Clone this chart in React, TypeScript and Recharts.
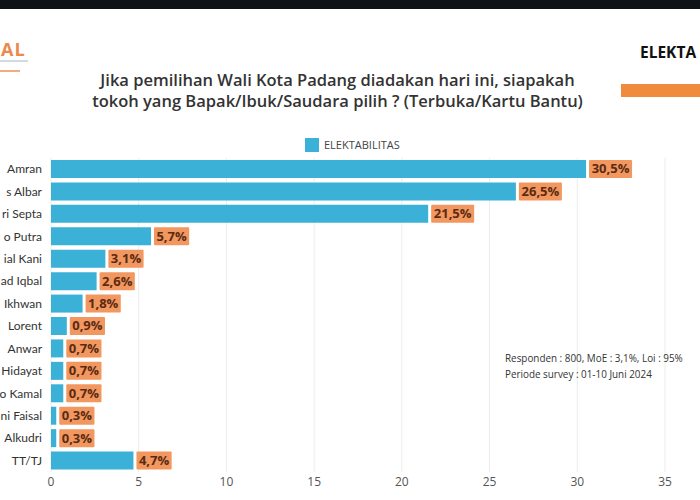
import React from "react";
import { BarChart, Bar, XAxis, YAxis, CartesianGrid, LabelList } from "recharts";

const names = [
  "Amran",
  "s Albar",
  "ri Septa",
  "o Putra",
  "ial Kani",
  "ad Iqbal",
  "Ikhwan",
  "Lorent",
  "Anwar",
  "Hidayat",
  "o Kamal",
  "ni Faisal",
  "Alkudri",
  "TT/TJ",
];
const elektabilitas = [30.5, 26.5, 21.5, 5.7, 3.1, 2.6, 1.8, 0.9, 0.7, 0.7, 0.7, 0.3, 0.3, 4.7];
const xTicks = [0, 5, 10, 15, 20, 25, 30, 35];

const rows = names.map((name, i) => ({ name, value: elektabilitas[i] }));

const FONT = "'Open Sans', Lato, sans-serif";
const BLUE = "#3bb1d7";
const ORANGE = "#f1975f";

// orange tag with the percentage, sitting just past the bar end
function ValueTag(props: any) {
  const { x, y, width, height, value } = props;
  const text = value.toFixed(1).replace(".", ",") + "%";
  const w = text.length * 7.8 + 4;
  const bx = x + width + 3;
  return (
    <g>
      <rect x={bx} y={y} width={w} height={height} fill={ORANGE} rx={1} />
      <text
        x={bx + w / 2}
        y={y + height / 2 + 1}
        textAnchor="middle"
        dominantBaseline="middle"
        fontSize={13}
        fontWeight={700}
        fill="#5a2a12"
        fontFamily={FONT}
      >
        {text}
      </text>
    </g>
  );
}

// single-line category label, no wrapping
function NameTick(props: any) {
  const { x, y, payload } = props;
  return (
    <text x={x} y={y} dy={4} textAnchor="end" fontSize={12} fill="#333" fontFamily="Lato, sans-serif">
      {payload.value}
    </text>
  );
}

export default function App() {
  return (
    <div
      style={{
        position: "absolute",
        left: 0,
        top: 0,
        width: 700,
        height: 500,
        background: "#fff",
        overflow: "hidden",
        fontFamily: FONT,
      }}
    >
      <div style={{ position: "absolute", left: 0, top: 0, width: 700, height: 9, background: "#0e1217" }} />

      {/* logo remnant, top left */}
      <div style={{ position: "absolute", left: 1, top: 37, fontSize: 18, fontWeight: 700, color: "#ea8a4c", letterSpacing: 1 }}>
        AL
      </div>
      <div style={{ position: "absolute", left: 0, top: 60, width: 28, height: 2, background: "#9fb6c8", opacity: 0.5 }} />
      <div style={{ position: "absolute", left: 0, top: 70, width: 20, height: 2, background: "#ea8a4c", opacity: 0.7 }} />

      {/* side panel heading */}
      <div style={{ position: "absolute", left: 640, top: 41, fontSize: 15.5, fontWeight: 700, color: "#111", whiteSpace: "nowrap" }}>
        ELEKTA
      </div>
      <div style={{ position: "absolute", left: 621, top: 84, width: 79, height: 13, background: "#f08a3c" }} />

      <div
        style={{
          position: "absolute",
          left: 40,
          top: 69,
          width: 595,
          textAlign: "center",
          fontSize: 16.5,
          fontWeight: 600,
          color: "#333",
          lineHeight: "21px",
          whiteSpace: "nowrap",
        }}
      >
        Jika pemilihan Wali Kota Padang diadakan hari ini, siapakah
        <br />
        tokoh yang Bapak/Ibuk/Saudara pilih ? (Terbuka/Kartu Bantu)
      </div>

      {/* legend */}
      <div style={{ position: "absolute", left: 305, top: 137, display: "flex", alignItems: "center" }}>
        <div style={{ width: 14, height: 14, background: BLUE, marginRight: 5 }} />
        <span style={{ fontSize: 11, color: "#444" }}>ELEKTABILITAS</span>
      </div>

      <div style={{ position: "absolute", left: 0, top: 150 }}>
        <BarChart
          width={700}
          height={345}
          data={rows}
          layout="vertical"
          margin={{ top: 8, right: 35, bottom: 3, left: 0 }}
          barCategoryGap={2}
        >
          <CartesianGrid horizontal={false} stroke="#ececec" />
          <XAxis
            type="number"
            domain={[0, 35]}
            ticks={xTicks}
            axisLine={false}
            tickLine={false}
            tickSize={0}
            tickMargin={5}
            height={20}
            tick={{ fontSize: 12, fill: "#555", fontFamily: FONT }}
          />
          <YAxis
            type="category"
            dataKey="name"
            width={51}
            interval={0}
            axisLine={false}
            tickLine={false}
            tickSize={0}
            tickMargin={9}
            tick={<NameTick />}
          />
          <Bar dataKey="value" fill={BLUE} isAnimationActive={false}>
            <LabelList dataKey="value" content={<ValueTag />} />
          </Bar>
        </BarChart>
      </div>

      <div style={{ position: "absolute", left: 505, top: 350, fontSize: 9.9, color: "#333", lineHeight: "16px", whiteSpace: "nowrap" }}>
        Responden : 800, MoE : 3,1%, Loi : 95%
        <br />
        Periode survey : 01-10 Juni 2024
      </div>
    </div>
  );
}
